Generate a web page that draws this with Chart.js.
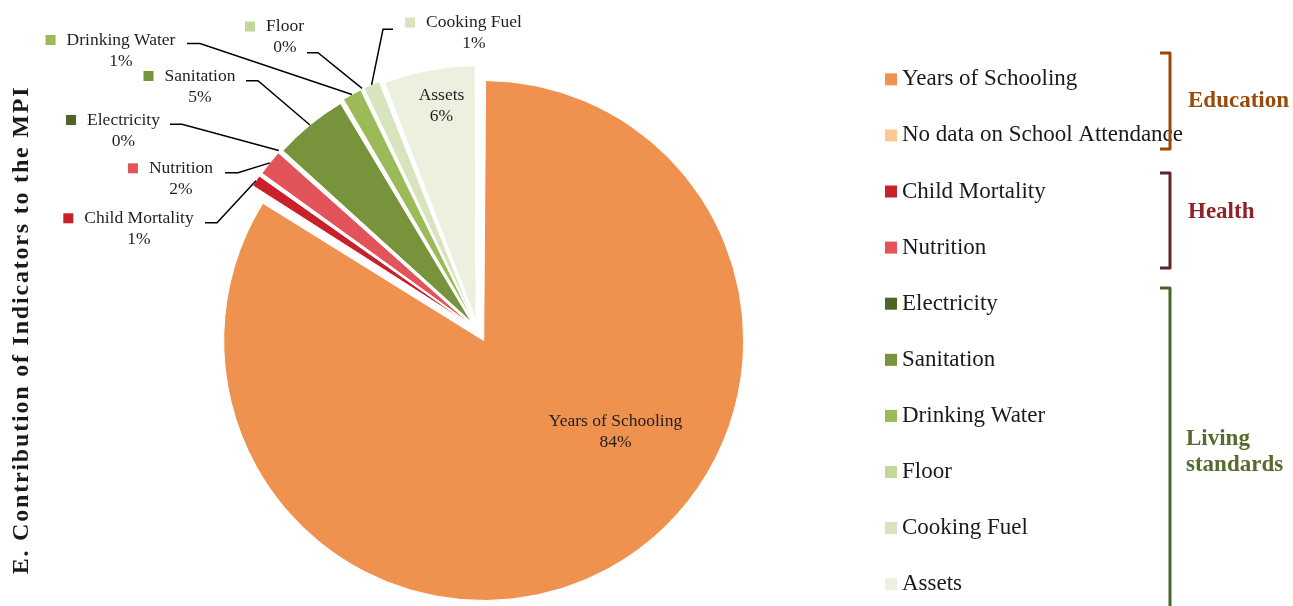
<!DOCTYPE html>
<html>
<head>
<meta charset="utf-8">
<script src="https://cdn.jsdelivr.net/npm/chart.js@4.4.1/dist/chart.umd.min.js"></script>
<style>
  html, body { margin: 0; padding: 0; background: #fff; }
  #wrap { width: 1293px; height: 606px; position: relative; }
</style>
</head>
<body>
<div id="wrap"><canvas id="mpiChart"></canvas></div>
<script>
const indicators = ['Years of Schooling', 'No data on School Attendance', 'Child Mortality', 'Nutrition',
                    'Electricity', 'Sanitation', 'Drinking Water', 'Floor', 'Cooking Fuel', 'Assets'];
const contributions = [83.8, 0, 0.9, 1.8, 0, 4.8, 1.4, 0, 1.2, 5.9];
const sliceColors = ['#F0924F', '#FDC894', '#C9202A', '#E2535A', '#4F6228',
                     '#77933C', '#9BBB59', '#C3D69B', '#D7E4BD', '#EBF1DE'];

const groupNames = [['Education'], ['Health'], ['Living', 'standards']];
const groupColors = ['#984807', '#632523', '#4F6228'];
const groupTextColors = ['#9A4B0C', '#8F2229', '#566B2E'];

const serif = "'Liberation Serif', 'Times New Roman', serif";
const total = contributions.reduce((a, b) => a + b, 0);
const pct = v => Math.round(v / total * 100) + '%';

// where each label goes (callouts with leader lines, or inside the slice)
const labelLayout = {
    0: { cx: 615.5, y: 421.7, inside: true },
    2: { cx: 139, y: 218.3, lineY: 222.7, x0: 205, x1: 217 },
    3: { cx: 181, y: 168.3, lineY: 172.7, x0: 225, x1: 238 },
    4: { cx: 123.5, y: 120, lineY: 124.3, x0: 170, x1: 182 },
    5: { cx: 200, y: 76, lineY: 80.7, x0: 246, x1: 258 },
    6: { cx: 121, y: 40, lineY: 43.5, x0: 187, x1: 200 },
    7: { cx: 285, y: 26.5, lineY: 52.7, x0: 307, x1: 318 },
    8: { cx: 474, y: 22.5, lineY: 29.3, x0: 393, x1: 383 },
    9: { cx: 441.5, y: 95, inside: true }
};

// right hand legend + group brackets
const legendLayout = { x: 885, y0: 79.3, step: 56.1, box: 12 };
const bracketLayout = [
    { x: 1170, top: 53, bottom: 149, textX: 1188, textY: 101.5 },
    { x: 1170, top: 173, bottom: 268, textX: 1188, textY: 212.5 },
    { x: 1170, top: 288, bottom: 615, textX: 1186, textY: 439 }
];

// garamond in the original is wider than the serif we have, so space the title out a bit
const titleSpacing = {
    id: 'titleSpacing',
    beforeDraw(chart) { chart.ctx.letterSpacing = '1.8px'; },
    beforeDatasetsDraw(chart) { chart.ctx.letterSpacing = '0px'; }
};

const calloutPlugin = {
    id: 'callouts',
    afterDatasetsDraw(chart) {
        const ctx = chart.ctx;
        const meta = chart.getDatasetMeta(0);
        ctx.save();
        ctx.font = '17.5px ' + serif;
        ctx.textBaseline = 'middle';
        ctx.textAlign = 'center';
        Object.keys(labelLayout).forEach(k => {
            const i = Number(k);
            const L = labelLayout[i];
            const arc = meta.data[i];
            const p = arc.getProps(['x', 'y', 'startAngle', 'endAngle', 'outerRadius'], true);
            const mid = (p.startAngle + p.endAngle) / 2;
            const shift = (arc.options.offset || 0) / 4;
            const fix = 1 - Math.sin(Math.min(Math.PI, p.endAngle - p.startAngle));
            const r = p.outerRadius + shift * fix;
            const ax = p.x + Math.cos(mid) * (shift + r);
            const ay = p.y + Math.sin(mid) * (shift + r);

            ctx.fillStyle = '#1f1f1f';
            ctx.fillText(indicators[i], L.cx, L.y);
            ctx.fillText(pct(contributions[i]), L.cx, L.y + 21);
            if (L.inside) return;

            const w = ctx.measureText(indicators[i]).width;
            ctx.fillStyle = sliceColors[i];
            ctx.fillRect(L.cx - w / 2 - 21, L.y - 5, 10, 10);

            ctx.strokeStyle = '#000';
            ctx.lineWidth = 1.5;
            ctx.beginPath();
            ctx.moveTo(L.x0, L.lineY);
            ctx.lineTo(L.x1, L.lineY);
            ctx.lineTo(ax, ay);
            ctx.stroke();
        });
        ctx.restore();
    }
};

const groupLegendPlugin = {
    id: 'groupLegend',
    afterDraw(chart) {
        const ctx = chart.ctx;
        const colors = chart.data.datasets[0].backgroundColor;
        ctx.save();
        ctx.textBaseline = 'middle';
        ctx.textAlign = 'left';
        ctx.font = '23px ' + serif;
        chart.data.labels.forEach((lab, i) => {
            const y = legendLayout.y0 + i * legendLayout.step;
            ctx.fillStyle = colors[i];
            ctx.fillRect(legendLayout.x, y - legendLayout.box / 2, legendLayout.box, legendLayout.box);
            ctx.fillStyle = '#1a1a1a';
            ctx.fillText(lab, legendLayout.x + legendLayout.box + 5, y);
        });

        bracketLayout.forEach((b, g) => {
            ctx.strokeStyle = groupColors[g];
            ctx.lineWidth = 3;
            ctx.lineJoin = 'round';
            ctx.beginPath();
            ctx.moveTo(b.x - 10, b.top);
            ctx.lineTo(b.x, b.top);
            ctx.lineTo(b.x, b.bottom);
            ctx.lineTo(b.x - 10, b.bottom);
            ctx.stroke();
            ctx.fillStyle = groupTextColors[g];
            ctx.font = 'bold 23px ' + serif;
            groupNames[g].forEach((line, j) => {
                ctx.fillText(line, b.textX, b.textY + j * 26);
            });
        });
        ctx.restore();
    }
};

new Chart(document.getElementById('mpiChart'), {
    type: 'pie',
    data: {
        labels: indicators,
        datasets: [{
            data: contributions,
            backgroundColor: sliceColors,
            borderColor: '#ffffff',
            borderWidth: 1,
            // the big slice is pulled out a little further than the small ones
            offset: ctx => ctx.dataIndex === 0 ? 48 : 40,
            radius: 248
        }]
    },
    options: {
        responsive: true,
        maintainAspectRatio: false,
        animation: false,
        layout: { padding: { left: 0, right: 381, top: 54, bottom: 0 } },
        plugins: {
            legend: { display: false },
            tooltip: { enabled: true },
            title: {
                display: true,
                position: 'left',
                text: 'E. Contribution of Indicators to the MPI',
                color: '#1a1a1a',
                font: { family: serif, size: 24, weight: 'bold' },
                padding: { top: 7, bottom: 8 }
            }
        }
    },
    plugins: [titleSpacing, calloutPlugin, groupLegendPlugin]
});
</script>
</body>
</html>
